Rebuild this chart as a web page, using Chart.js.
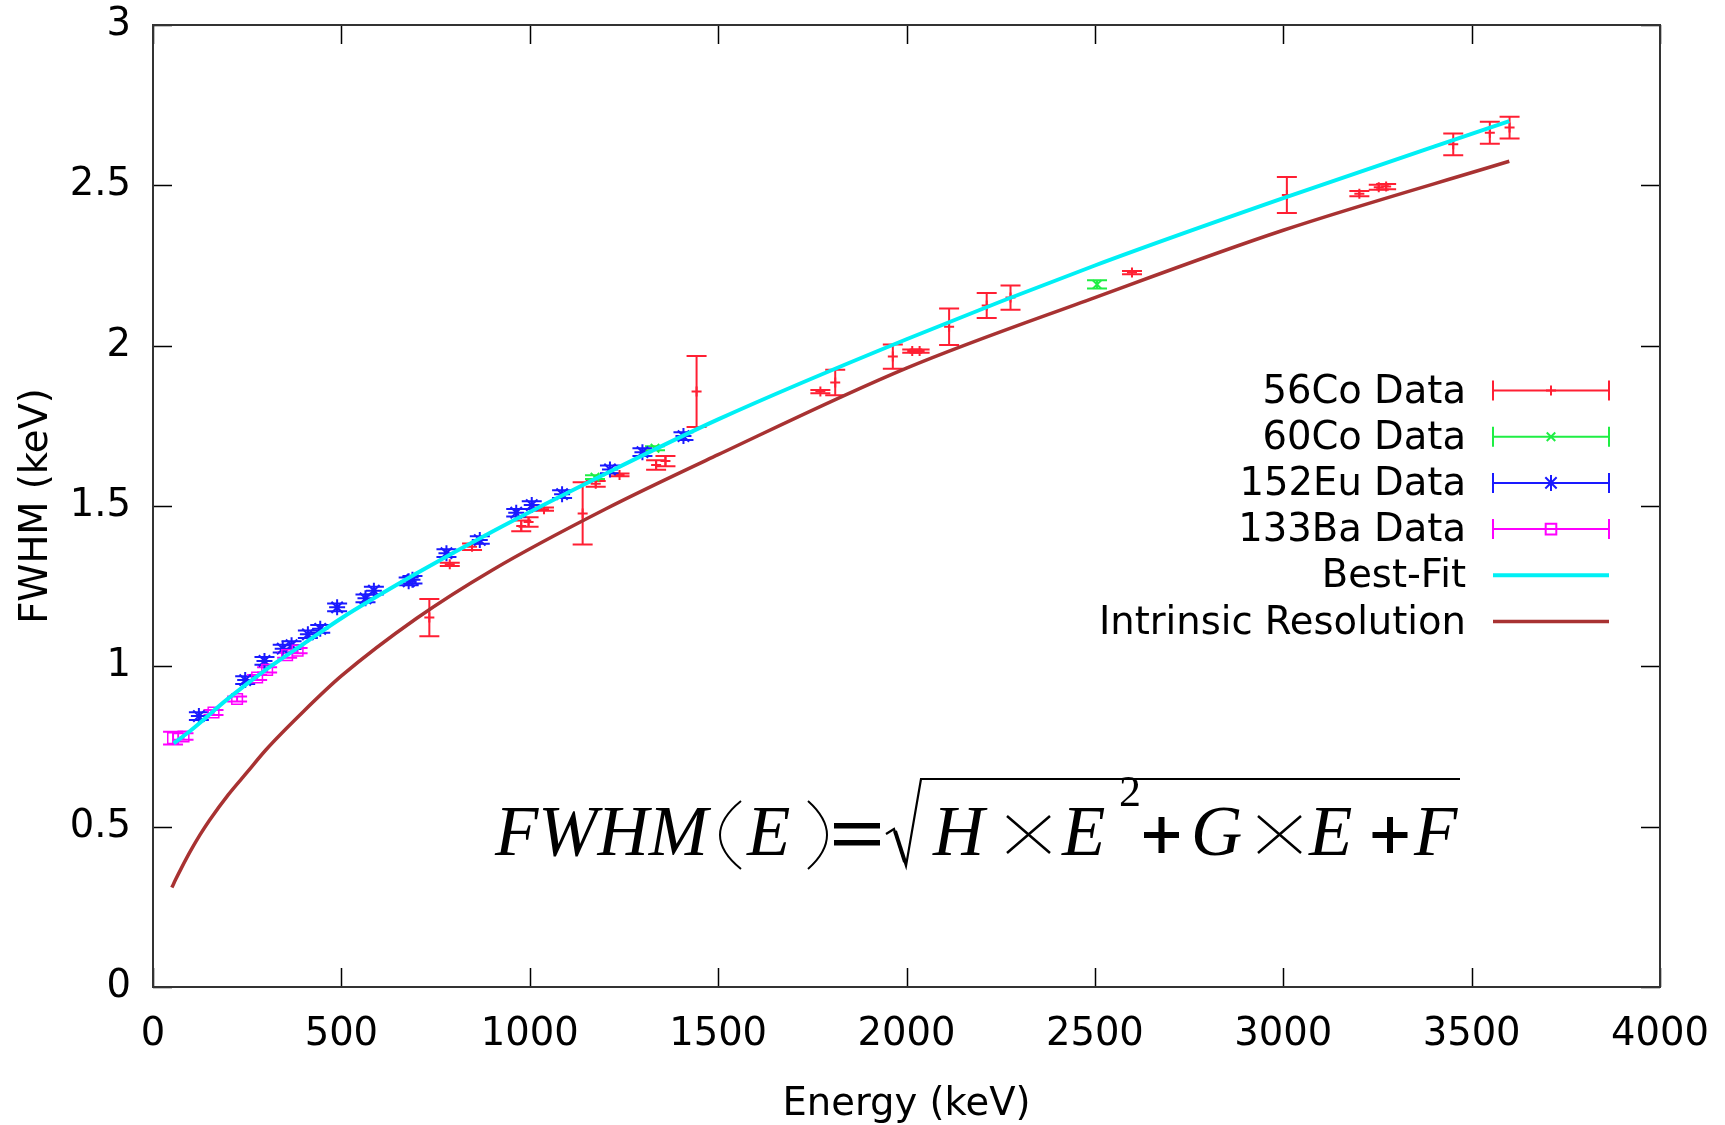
<!DOCTYPE html>
<html>
<head>
<meta charset="utf-8">
<script src="https://cdn.jsdelivr.net/npm/chart.js@4.4.0/dist/chart.umd.min.js"></script>
<style>
  html, body { margin: 0; padding: 0; background: #fff; }
  canvas { display: block; }
</style>
</head>
<body>
<canvas id="fwhmChart" width="1725" height="1125"></canvas>
<script>
// 56Co lines: energy (keV), FWHM (keV), error
const co56E = [733.5, 787.7, 846.8, 977.4, 996.9, 1037.8, 1140.4, 1175.1, 1238.3, 1335.4, 1360.2, 1442.8,
  1771.4, 1810.8, 1963.7, 2015.2, 2034.8, 2113.1, 2212.9, 2276.1, 2598.5, 3009.6, 3202.0, 3253.5,
  3273.1, 3451.2, 3548.3, 3600.7];
const co56F = [1.152, 1.318, 1.373, 1.438, 1.450, 1.490, 1.477, 1.569, 1.597, 1.628, 1.640, 1.857,
  1.857, 1.885, 1.966, 1.983, 1.983, 2.059, 2.125, 2.150, 2.228, 2.470, 2.474, 2.494,
  2.496, 2.628, 2.664, 2.680];
const co56Err = [0.058, 0.005, 0.010, 0.017, 0.015, 0.005, 0.097, 0.009, 0.004, 0.015, 0.016, 0.111,
  0.005, 0.040, 0.038, 0.005, 0.005, 0.057, 0.039, 0.038, 0.005, 0.056, 0.008, 0.008,
  0.008, 0.034, 0.034, 0.034];

// 60Co lines (incl. sum peak)
const co60E = [1173.2, 1332.5, 2505.7];
const co60F = [1.590, 1.680, 2.191];
const co60Err = [0.006, 0.006, 0.013];

// 152Eu lines
const eu152E = [121.8, 244.7, 295.9, 344.3, 367.8, 411.1, 443.9, 488.7, 564.0, 586.3, 678.6, 688.7,
  778.9, 867.4, 964.1, 1005.3, 1085.8, 1212.9, 1299.1, 1408.0];
const eu152F = [0.845, 0.957, 1.017, 1.055, 1.066, 1.100, 1.117, 1.184, 1.212, 1.236, 1.265, 1.270,
  1.353, 1.394, 1.479, 1.503, 1.537, 1.614, 1.668, 1.718];
const eu152Err = [0.012, 0.012, 0.012, 0.012, 0.012, 0.012, 0.012, 0.012, 0.012, 0.012, 0.012, 0.012,
  0.012, 0.012, 0.012, 0.012, 0.012, 0.012, 0.012, 0.012];

// 133Ba lines
const ba133E = [53.2, 81.0, 160.6, 223.2, 276.4, 302.9, 356.0, 383.8];
const ba133F = [0.776, 0.781, 0.856, 0.898, 0.965, 0.989, 1.035, 1.049];
const ba133Err = [0.020, 0.010, 0.008, 0.008, 0.008, 0.008, 0.008, 0.008];

// fitted FWHM(E) curve
const fitE = [55, 100, 200, 300, 400, 500, 700, 900, 1200, 1500, 2000, 2500, 3000, 3600];
const fitF = [0.76, 0.80, 0.90, 0.99, 1.07, 1.15, 1.29, 1.42, 1.60, 1.77, 2.02, 2.25, 2.46, 2.70];

// intrinsic resolution curve
const intrE = [50, 60, 75, 100, 125, 150, 200, 250, 300, 400, 500, 700, 900, 1200, 1500, 2000, 2500, 3000, 3600];
const intrF = [0.31, 0.335, 0.37, 0.425, 0.475, 0.52, 0.60, 0.67, 0.74, 0.86, 0.97, 1.15, 1.30, 1.49, 1.66, 1.93, 2.15, 2.36, 2.575];

const xTicks = [0, 500, 1000, 1500, 2000, 2500, 3000, 3500, 4000];
const yTicks = [0, 0.5, 1, 1.5, 2, 2.5, 3];

const FONT = 'DejaVu Sans';
const FSIZE = 38.5;

function pts(xs, ys) {
  return xs.map((v, i) => ({ x: v, y: ys[i] }));
}

// vertical error bars with caps, drawn under the markers and curves
const errorBars = {
  id: 'errorBars',
  beforeDatasetsDraw(chart) {
    const { ctx, scales: { x, y } } = chart;
    chart.data.datasets.forEach(ds => {
      if (!ds.errors) return;
      ctx.save();
      ctx.strokeStyle = ds.borderColor;
      ctx.lineWidth = 2;
      ds.data.forEach((p, i) => {
        const px = x.getPixelForValue(p.x);
        const top = y.getPixelForValue(p.y + ds.errors[i]);
        const bot = y.getPixelForValue(p.y - ds.errors[i]);
        ctx.beginPath();
        ctx.moveTo(px, top); ctx.lineTo(px, bot);
        ctx.moveTo(px - 10, top); ctx.lineTo(px + 10, top);
        ctx.moveTo(px - 10, bot); ctx.lineTo(px + 10, bot);
        ctx.stroke();
      });
      ctx.restore();
    });
  }
};

// box border with inward ticks on all four sides
const frame = {
  id: 'frame',
  beforeDatasetsDraw(chart) {
    const { ctx, chartArea: a, scales: { x, y } } = chart;
    ctx.save();
    ctx.strokeStyle = '#000';
    ctx.lineWidth = 1.5;
    ctx.beginPath();
    xTicks.forEach(v => {
      const px = Math.round(x.getPixelForValue(v)) + 0.5;
      ctx.moveTo(px, a.bottom); ctx.lineTo(px, a.bottom - 19);
      ctx.moveTo(px, a.top); ctx.lineTo(px, a.top + 19);
    });
    yTicks.forEach(v => {
      const py = Math.round(y.getPixelForValue(v)) + 0.5;
      ctx.moveTo(a.left, py); ctx.lineTo(a.left + 19, py);
      ctx.moveTo(a.right, py); ctx.lineTo(a.right - 19, py);
    });
    ctx.stroke();
    ctx.strokeStyle = '#333';
    ctx.lineWidth = 2;
    ctx.strokeRect(a.left, a.top, a.right - a.left, a.bottom - a.top);
    ctx.restore();
  }
};

// key: right-aligned labels with a sample line to their right
const keyBox = {
  id: 'keyBox',
  afterDraw(chart) {
    const { ctx } = chart;
    const textRight = 1466, x0 = 1493, x1 = 1609, y0 = 390.5, step = 46.2;
    ctx.save();
    ctx.font = FSIZE + 'px "' + FONT + '"';
    ctx.textAlign = 'right';
    ctx.textBaseline = 'middle';
    chart.data.datasets.forEach(ds => {
      const yy = y0 + ds.keyRow * step;
      ctx.fillStyle = '#000';
      ctx.fillText(ds.label, textRight, yy + 2);
      ctx.strokeStyle = ds.borderColor;
      ctx.beginPath();
      ctx.moveTo(x0, yy); ctx.lineTo(x1, yy);
      if (ds.errors) {
        ctx.lineWidth = 2;
        ctx.moveTo(x0, yy - 10); ctx.lineTo(x0, yy + 10);
        ctx.moveTo(x1, yy - 10); ctx.lineTo(x1, yy + 10);
        ctx.stroke();
        ctx.fillStyle = 'rgba(0,0,0,0)';
        Chart.helpers.drawPoint(ctx, {
          pointStyle: ds.pointStyle, radius: ds.pointRadius, rotation: 0, borderWidth: ds.borderWidth
        }, (x0 + x1) / 2, yy);
      } else {
        ctx.lineWidth = ds.borderWidth;
        ctx.stroke();
      }
    });
    ctx.restore();
  }
};

// fit formula written inside the plot
const formula = {
  id: 'formula',
  afterDraw(chart) {
    const { ctx } = chart;
    const base = 855;
    const it = 'italic 71px "Liberation Serif"';
    ctx.save();
    ctx.fillStyle = '#000';
    ctx.strokeStyle = '#000';
    ctx.textAlign = 'left';
    ctx.textBaseline = 'alphabetic';
    const put = (t, x, f, y) => { ctx.font = f; ctx.fillText(t, x, y === undefined ? base : y); };
    put('FWHM', 495, it);
    put('E', 747, it);
    put('H', 933, it);
    put('E', 1062, it);
    put('2', 1119, '44px "Liberation Serif"', 806);
    put('G', 1191, it);
    put('E', 1309, it);
    put('F', 1414, it);

    // thin tall parentheses
    ctx.lineWidth = 2;
    ctx.beginPath();
    ctx.moveTo(741, 801); ctx.quadraticCurveTo(699, 835, 741, 869);
    ctx.moveTo(808, 801); ctx.quadraticCurveTo(846, 835, 808, 869);
    ctx.stroke();

    // equals sign
    ctx.fillRect(834, 823, 46, 5.5);
    ctx.fillRect(834, 840, 46, 5.5);

    // multiplication signs
    ctx.lineWidth = 2.5;
    ctx.beginPath();
    [1003, 1254].forEach(x0 => {
      ctx.moveTo(x0 + 4, 816); ctx.lineTo(x0 + 47, 853);
      ctx.moveTo(x0 + 47, 816); ctx.lineTo(x0 + 4, 853);
    });
    ctx.stroke();

    // bold plus signs
    ctx.lineWidth = 6;
    ctx.beginPath();
    [1161.5, 1390].forEach(cx => {
      ctx.moveTo(cx - 17.5, 835); ctx.lineTo(cx + 17.5, 835);
      ctx.moveTo(cx, 817); ctx.lineTo(cx, 853);
    });
    ctx.stroke();

    // radical sign and its bar
    ctx.lineWidth = 2.2;
    ctx.beginPath();
    ctx.moveTo(886, 834); ctx.lineTo(894, 829);
    ctx.lineTo(906, 866); ctx.lineTo(921, 779);
    ctx.lineTo(1460, 779);
    ctx.stroke();
    ctx.lineWidth = 4;
    ctx.beginPath();
    ctx.moveTo(895, 831); ctx.lineTo(905, 862);
    ctx.stroke();
    ctx.restore();
  }
};

const ctx = document.getElementById('fwhmChart').getContext('2d');
new Chart(ctx, {
  type: 'scatter',
  data: {
    datasets: [
      {
        label: '56Co Data', keyRow: 0, data: pts(co56E, co56F), errors: co56Err,
        borderColor: '#ff1f33', backgroundColor: 'rgba(0,0,0,0)',
        pointStyle: 'cross', pointRadius: 5, borderWidth: 2, order: 4
      },
      {
        label: '60Co Data', keyRow: 1, data: pts(co60E, co60F), errors: co60Err,
        borderColor: '#1fee44', backgroundColor: 'rgba(0,0,0,0)',
        pointStyle: 'crossRot', pointRadius: 6, borderWidth: 2, order: 3
      },
      {
        label: '152Eu Data', keyRow: 2, data: pts(eu152E, eu152F), errors: eu152Err,
        borderColor: '#1a1aff', backgroundColor: 'rgba(0,0,0,0)',
        pointStyle: 'star', pointRadius: 8, borderWidth: 2, order: 2
      },
      {
        label: '133Ba Data', keyRow: 3, data: pts(ba133E, ba133F), errors: ba133Err,
        borderColor: '#ff00ff', backgroundColor: 'rgba(0,0,0,0)',
        pointStyle: 'rect', pointRadius: 7.5, borderWidth: 1.5, order: 1
      },
      {
        label: 'Best-Fit', keyRow: 4, data: pts(fitE, fitF),
        borderColor: '#00f0f5', showLine: true, pointRadius: 0, borderWidth: 4,
        cubicInterpolationMode: 'monotone', order: 0
      },
      {
        label: 'Intrinsic Resolution', keyRow: 5, data: pts(intrE, intrF),
        borderColor: '#a83232', showLine: true, pointRadius: 0, borderWidth: 3.5,
        cubicInterpolationMode: 'monotone', order: 0
      }
    ]
  },
  options: {
    responsive: false,
    animation: false,
    devicePixelRatio: 1,
    layout: { padding: { top: 25, right: 65, bottom: 0, left: 0 } },
    plugins: {
      legend: { display: false },
      tooltip: { enabled: false }
    },
    scales: {
      x: {
        type: 'linear', min: 0, max: 4000,
        afterFit: s => { s.height = 138; },
        afterBuildTicks: s => { s.ticks = xTicks.map(v => ({ value: v })); },
        // tick marks are drawn by the frame plugin; tickLength only spaces the labels
        grid: { display: false, drawTicks: true, tickLength: 25 },
        border: { display: false },
        ticks: {
          autoSkip: false, maxRotation: 0, padding: 0, color: '#000',
          font: { family: FONT, size: FSIZE },
          callback: v => String(v)
        },
        title: {
          display: true, text: 'Energy (keV)', color: '#000',
          font: { family: FONT, size: FSIZE }, padding: { top: 0, bottom: -3 }
        }
      },
      y: {
        type: 'linear', min: 0, max: 3,
        afterFit: s => { s.width = 153; },
        afterBuildTicks: s => { s.ticks = yTicks.map(v => ({ value: v })); },
        grid: { display: false, drawTicks: true, tickLength: 22 },
        border: { display: false },
        ticks: {
          padding: 0, color: '#000',
          font: { family: FONT, size: FSIZE },
          callback: v => String(v)
        },
        title: {
          display: true, text: 'FWHM (keV)', color: '#000',
          font: { family: FONT, size: FSIZE }, padding: { top: 14, bottom: 0 }
        }
      }
    }
  },
  plugins: [errorBars, frame, keyBox, formula]
});
</script>
</body>
</html>
